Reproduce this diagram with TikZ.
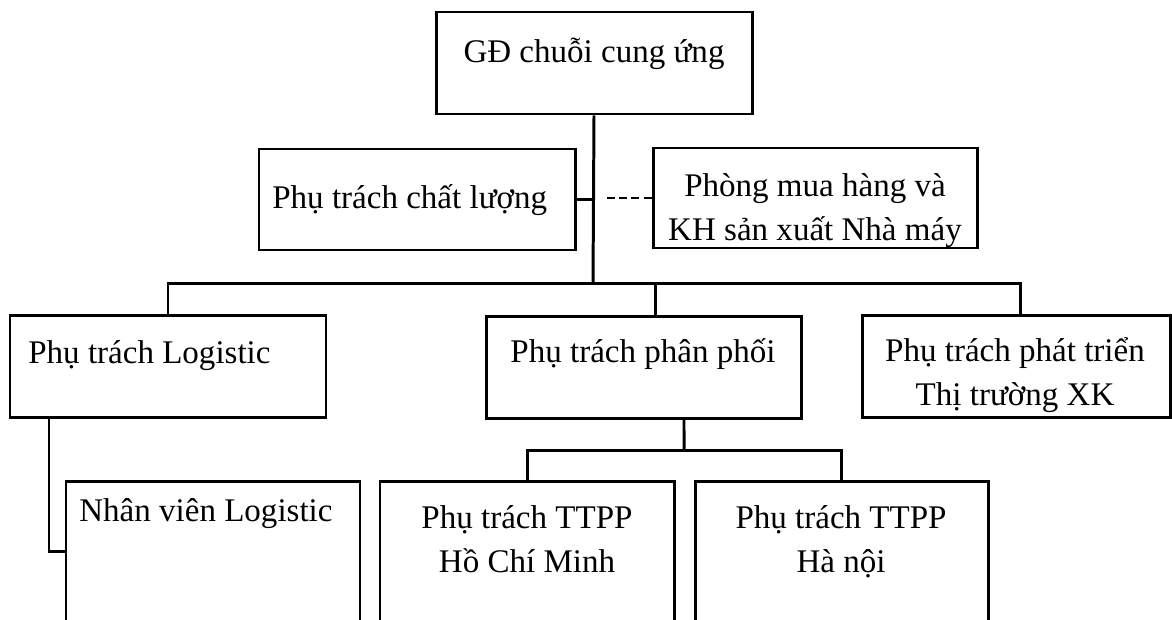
\documentclass[tikz,border=0pt]{standalone}
\usepackage{fontspec}
\setmainfont{Liberation Serif}
\usepackage{tikz}
\usetikzlibrary{positioning}

\begin{document}
\begin{tikzpicture}[x=0.02cm, y=-0.02cm,
    box/.style={draw,line width=1.7pt,inner sep=0pt},
    wh/.style 2 args={minimum width=#1*0.02cm, minimum height=#2*0.02cm},
    txt/.style={font=\fontsize{18.8}{25}\selectfont,inner sep=0pt,align=center},
    link/.style={line width=1.7pt},
    faint/.style={line width=1.4pt,dash pattern=on 4.5pt off 2.4pt}
]

%------------------------ 画布 ------------------------
\useasboundingbox (0,0) rectangle (1172,619);
\clip (0,0) rectangle (1172,619);

%------------------------ 方框 ------------------------
\node[box,wh={316}{102}] (gd)     at (594,63)    {};
\node[box,wh={316}{101}] (qual)   at (417,199.5) {};
\node[box,wh={324}{100}] (purch)  at (815,198)   {};
\node[box,wh={316}{102}] (logi)   at (168,366)   {};
\node[box,wh={315}{102}] (dist)   at (643.5,367) {};
\node[box,wh={308}{102}] (export) at (1016,366)  {};
\node[box,wh={294}{200}] (staff)  at (213,581)   {};
\node[box,wh={294}{200}] (hcm)    at (527,581)   {};
\node[box,wh={293}{200}] (hn)     at (841.5,581) {};

%------------------------ 文字 ------------------------
% 多行文字: base 取最后一行的基线
\node[txt,anchor=base]      (gdT)     at (594,62)   {GĐ chuỗi cung ứng};
\node[txt,anchor=base west] (qualT)   at (272,208)  {Phụ trách chất lượng};
\node[txt,anchor=base]      (purchT)  at (815,240)  {Phòng mua hàng và\\KH sản xuất Nhà máy};
\node[txt,anchor=base west] (logiT)   at (28,363)   {Phụ trách Logistic};
\node[txt,anchor=base]      (distT)   at (643,362)  {Phụ trách phân phối};
\node[txt,anchor=base]      (exportT) at (1015,405) {Phụ trách phát triển\\Thị trường XK};
\node[txt,anchor=base west] (staffT)  at (79,521)   {Nhân viên Logistic};
\node[txt,anchor=base]      (hcmT)    at (527,572)  {Phụ trách TTPP\\Hồ Chí Minh};
\node[txt,anchor=base]      (hnT)     at (841,572)  {Phụ trách TTPP\\Hà nội};

%------------------------ 连线 ------------------------
\coordinate (hub) at (593,283);     % 横线与主干交点
\coordinate (dashEnd) at (605,198); % 虚线左端
\coordinate (sub) at (684,450);     % 下层横线
\coordinate (elbow) at (49,551);    % Logistic 拐点

\draw[link] (gd.south) -- (hub);
\draw[link] (qual.east) -- (qual.east -| hub);
\draw[faint] (purch.west) -- (dashEnd);
\draw[link] (logi.north) |- (hub) -| ([xshift=0.08cm]export.north);
\draw[link] ([xshift=0.23cm]dist.north) |- (hub);
\draw[link] ([xshift=0.81cm]dist.south) -- (sub);
\draw[link] (hcm.north) |- (sub) -| (hn.north);
\draw[link] (logi.south -| elbow) -- (elbow) -- (elbow -| staff.west);

\end{tikzpicture}
\end{document}
